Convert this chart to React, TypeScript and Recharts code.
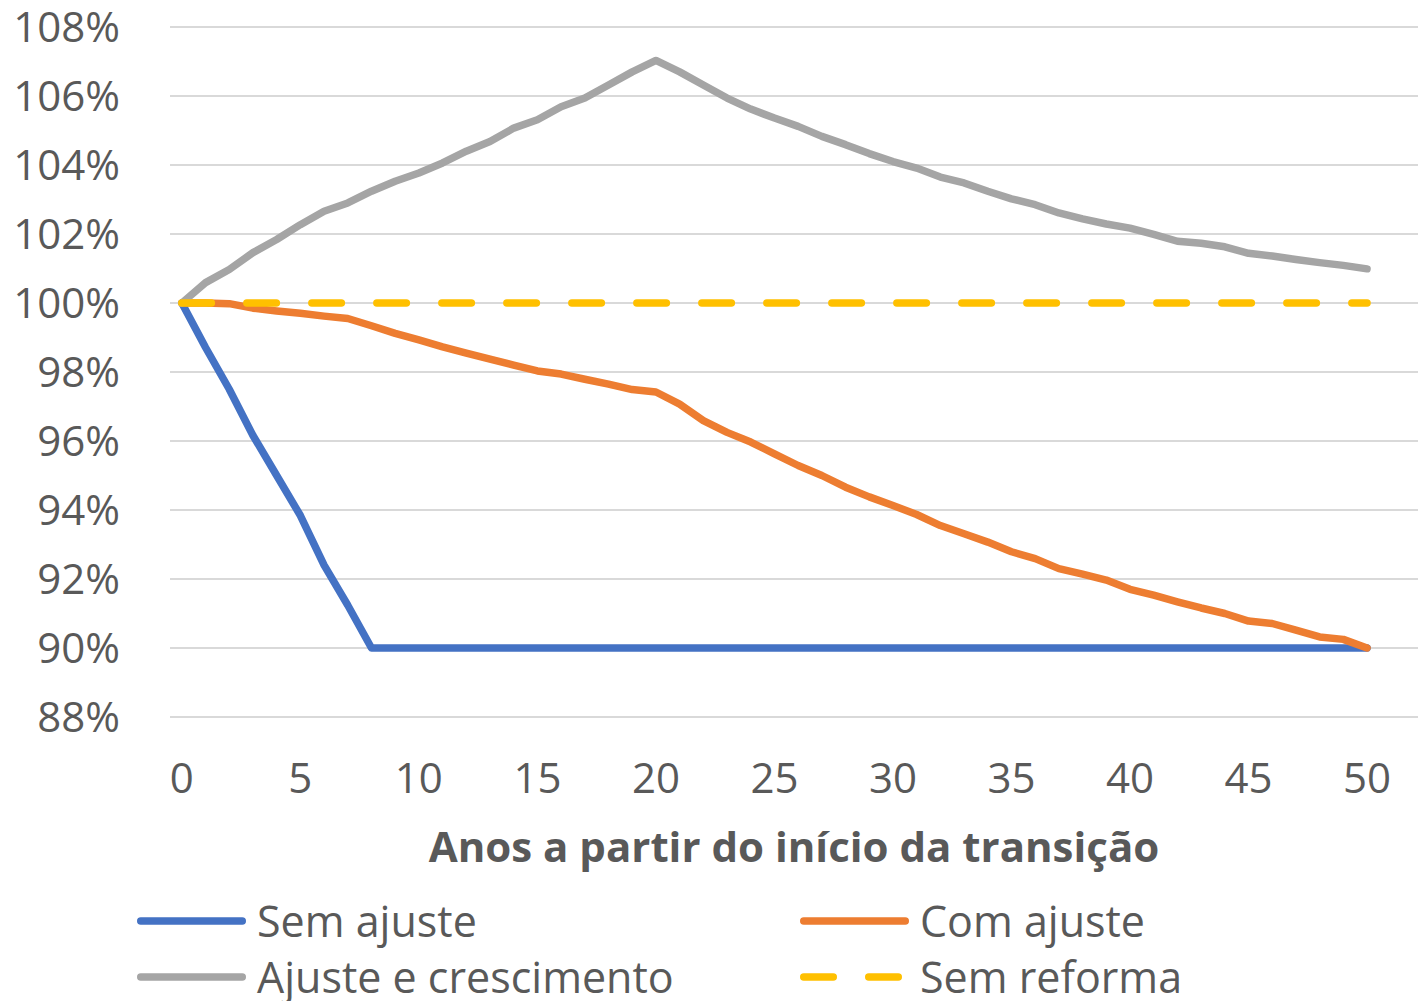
import { LineChart, Line, XAxis, YAxis, CartesianGrid, Legend } from "recharts";

const years = [
  0, 1, 2, 3, 4, 5, 6, 7, 8, 9, 10, 11, 12, 13, 14, 15, 16, 17, 18, 19, 20,
  21, 22, 23, 24, 25, 26, 27, 28, 29, 30, 31, 32, 33, 34, 35, 36, 37, 38, 39,
  40, 41, 42, 43, 44, 45, 46, 47, 48, 49, 50,
];

const semAjuste = [
  100, 98.71, 97.5, 96.16, 95.0, 93.84, 92.4, 91.24, 90, 90, 90, 90, 90, 90,
  90, 90, 90, 90, 90, 90, 90, 90, 90, 90, 90, 90, 90, 90, 90, 90, 90, 90, 90,
  90, 90, 90, 90, 90, 90, 90, 90, 90, 90, 90, 90, 90, 90, 90, 90, 90, 90,
];

const comAjuste = [
  100, 100, 99.98, 99.85, 99.77, 99.7, 99.62, 99.55, 99.34, 99.12, 98.93,
  98.73, 98.55, 98.37, 98.2, 98.03, 97.94, 97.79, 97.65, 97.49, 97.42, 97.07,
  96.59, 96.25, 95.97, 95.63, 95.29, 95.0, 94.66, 94.38, 94.13, 93.87, 93.55,
  93.31, 93.07, 92.79, 92.59, 92.3, 92.14, 91.97, 91.7, 91.53, 91.34, 91.16,
  91.0, 90.78, 90.71, 90.52, 90.32, 90.25, 90.0,
];

const ajusteCrescimento = [
  100, 100.59, 100.97, 101.46, 101.84, 102.27, 102.66, 102.9, 103.24, 103.53,
  103.77, 104.06, 104.4, 104.68, 105.07, 105.31, 105.69, 105.94, 106.32,
  106.7, 107.03, 106.7, 106.32, 105.94, 105.62, 105.36, 105.12, 104.83,
  104.59, 104.33, 104.1, 103.91, 103.65, 103.48, 103.24, 103.02, 102.85,
  102.61, 102.44, 102.29, 102.17, 101.99, 101.79, 101.73, 101.63, 101.44,
  101.36, 101.26, 101.17, 101.09, 100.99,
];

const semReforma = [
  100, 100, 100, 100, 100, 100, 100, 100, 100, 100, 100, 100, 100, 100, 100,
  100, 100, 100, 100, 100, 100, 100, 100, 100, 100, 100, 100, 100, 100, 100,
  100, 100, 100, 100, 100, 100, 100, 100, 100, 100, 100, 100, 100, 100, 100,
  100, 100, 100, 100, 100, 100,
];

const xTicks = [0, 5, 10, 15, 20, 25, 30, 35, 40, 45, 50];
const yTicks = [88, 90, 92, 94, 96, 98, 100, 102, 104, 106, 108];

const data = years.map((year, i) => ({
  year,
  semAjuste: semAjuste[i],
  comAjuste: comAjuste[i],
  ajusteCrescimento: ajusteCrescimento[i],
  semReforma: semReforma[i],
}));

const FONT = "'Open Sans', sans-serif";
const TEXT = "#595959";
const LW = 7.5;
const DASH = "29.5 35.5";

// legend slots: 2 columns x 2 rows, read left-to-right
const legendOrder = ["semAjuste", "comAjuste", "ajusteCrescimento", "semReforma"];
const legendCols = [137, 800];
const legendRows = [921, 977];
const LEGEND_TOP = 880;

function LegendContent(props: any) {
  const payload = props.payload || [];
  return (
    <div style={{ position: "relative", width: 1418, height: 121 }}>
      {payload.map((entry: any) => {
        const i = legendOrder.indexOf(entry.dataKey);
        const left = legendCols[i % 2];
        const top = legendRows[Math.floor(i / 2)] - LEGEND_TOP - 22;
        const dashed = entry.dataKey === "semReforma";
        return (
          <div
            key={entry.value}
            style={{
              position: "absolute",
              left,
              top,
              height: 44,
              display: "flex",
              alignItems: "center",
              whiteSpace: "nowrap",
            }}
          >
            <svg width={109} height={10} style={{ display: "block" }}>
              <line
                x1={LW / 2}
                y1={5}
                x2={109 - LW / 2}
                y2={5}
                stroke={entry.color}
                strokeWidth={LW}
                strokeLinecap="round"
                strokeDasharray={dashed ? DASH : undefined}
              />
            </svg>
            <span
              style={{
                marginLeft: 11,
                fontFamily: FONT,
                fontSize: 43,
                lineHeight: "44px",
                color: TEXT,
              }}
            >
              {entry.value}
            </span>
          </div>
        );
      })}
    </div>
  );
}

export default function App() {
  return (
    <div style={{ position: "absolute", left: 0, top: 0, background: "#fff" }}>
      <LineChart
        width={1418}
        height={1001}
        data={data}
        margin={{ top: 27, right: 0, left: 0, bottom: 0 }}
      >
        <CartesianGrid vertical={false} stroke="#d9d9d9" strokeWidth={2} />
        <XAxis
          dataKey="year"
          type="number"
          domain={[-0.5, 52.15]}
          ticks={xTicks}
          allowDataOverflow
          height={284}
          axisLine={false}
          tickLine={false}
          tickSize={0}
          tickMargin={46}
          tick={{ fill: TEXT, fontSize: 42, fontFamily: FONT }}
          label={{
            value: "Anos a partir do início da transição",
            position: "insideTop",
            offset: 115,
            fill: TEXT,
            fontSize: 42,
            fontWeight: 700,
            fontFamily: FONT,
          }}
        />
        <YAxis
          type="number"
          domain={[88, 108]}
          ticks={yTicks}
          width={170}
          axisLine={false}
          tickLine={false}
          tickSize={0}
          tickMargin={50}
          tickFormatter={(v: number) => `${v}%`}
          tick={{ fill: TEXT, fontSize: 42, fontFamily: FONT }}
        />
        <Legend
          layout="horizontal"
          verticalAlign="middle"
          align="center"
          wrapperStyle={{ top: LEGEND_TOP, left: 0, width: 1418 }}
          content={LegendContent}
        />
        <Line
          dataKey="semAjuste"
          name="Sem ajuste"
          stroke="#4472C4"
          strokeWidth={LW}
          dot={false}
          activeDot={false}
          strokeLinejoin="round"
          strokeLinecap="round"
          isAnimationActive={false}
        />
        <Line
          dataKey="comAjuste"
          name="Com ajuste"
          stroke="#ED7D31"
          strokeWidth={LW}
          dot={false}
          activeDot={false}
          strokeLinejoin="round"
          strokeLinecap="round"
          isAnimationActive={false}
        />
        <Line
          dataKey="ajusteCrescimento"
          name="Ajuste e crescimento"
          stroke="#A5A5A5"
          strokeWidth={LW}
          dot={false}
          activeDot={false}
          strokeLinejoin="round"
          strokeLinecap="round"
          isAnimationActive={false}
        />
        <Line
          dataKey="semReforma"
          name="Sem reforma"
          stroke="#FFC000"
          strokeWidth={LW}
          strokeDasharray={DASH}
          dot={false}
          activeDot={false}
          strokeLinecap="round"
          isAnimationActive={false}
        />
      </LineChart>
    </div>
  );
}
